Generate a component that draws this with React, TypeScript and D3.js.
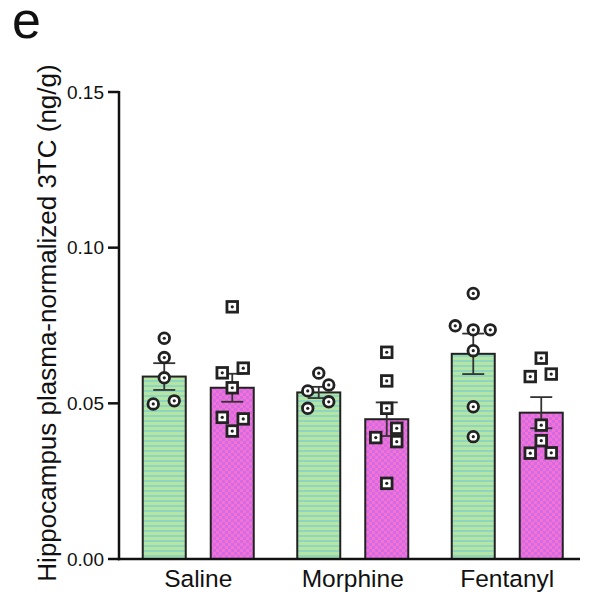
import React from "react";
import * as d3 from "d3";

const categories = ["Saline", "Morphine", "Fentanyl"];
const series = ["A", "B"];
const means = [
  [0.0586, 0.055],
  [0.0535, 0.0449],
  [0.0659, 0.047],
];
const sems = [
  [0.0043, 0.0045],
  [0.0018, 0.0054],
  [0.0065, 0.005],
];
// points: [value, jitter (-1..1)]
const pointsA: [number, number][][] = [
  [[0.0709, 0], [0.0647, 0], [0.0582, 0], [0.0498, -1.1], [0.0508, 1]],
  [[0.0597, 0], [0.0559, 1], [0.054, -1.1], [0.0505, 1], [0.0484, -1.1]],
  [[0.0853, 0], [0.0749, -1.8], [0.0736, 0], [0.0736, 1.7], [0.0669, 0], [0.0489, 0], [0.0393, 0]],
];
const pointsB: [number, number][][] = [
  [[0.081, 0], [0.0598, -1], [0.0613, 1.1], [0.055, 0], [0.0455, -1], [0.045, 1.1], [0.0411, 0]],
  [[0.0664, 0], [0.0572, 0], [0.0484, 0], [0.042, 1], [0.039, -1.1], [0.0377, 1], [0.0243, 0]],
  [[0.0645, 0], [0.0586, -1.1], [0.0594, 1], [0.043, 0], [0.038, 0], [0.034, -1.1], [0.0341, 1]],
];
const yTicks = [0, 0.05, 0.1, 0.15];
const yLabel = "Hippocampus plasma-normalized 3TC (ng/g)";
const panelLabel = "e";

const W = 589;
const H = 597;
const FONT = "'Liberation Sans', Arial, Helvetica, sans-serif";
const DARK = "#222";

export default function App() {
  const y = d3.scaleLinear().domain([0, 0.15]).range([559, 92]);
  const xg = d3.scaleBand<string>().domain(categories).range([121, 584.5]);
  const xs = d3.scalePoint<string>().domain(series).range([-34, 34]);
  const barW = 43;
  const jit = 10;

  return (
    <svg
      width={W}
      height={H}
      style={{ position: "absolute", left: 0, top: 0, background: "#fff" }}
      fontFamily={FONT}
    >
      <defs>
        <pattern id="stripes" patternUnits="userSpaceOnUse" width={6} height={5}>
          <rect width={6} height={5} fill="#b6e5a2" />
          <rect y={0} width={6} height={2} fill="#8ed6c4" />
        </pattern>
        <pattern id="checks" patternUnits="userSpaceOnUse" width={6} height={6}>
          <rect width={6} height={6} fill="#f571d2" />
          <rect x={0} y={0} width={3} height={3} fill="#d26be6" />
          <rect x={3} y={3} width={3} height={3} fill="#d26be6" />
        </pattern>
      </defs>

      <text x={12} y={38} fontSize={52} fill="#111">{panelLabel}</text>

      {/* bars */}
      {categories.map((c, ci) => {
        const cx0 = (xg(c) as number) + xg.bandwidth() / 2;
        return series.map((s, si) => {
          const cx = cx0 + (xs(s) as number);
          const m = means[ci][si];
          const e = sems[ci][si];
          const pts = si === 0 ? pointsA[ci] : pointsB[ci];
          return (
            <g key={c + s}>
              <rect
                x={cx - barW / 2}
                y={y(m)}
                width={barW}
                height={y(0) - y(m)}
                fill={si === 0 ? "url(#stripes)" : "url(#checks)"}
                stroke={DARK}
                strokeWidth={2}
              />
              <g stroke="#333" strokeWidth={1.8}>
                <line x1={cx} x2={cx} y1={y(m + e)} y2={y(m - e)} />
                <line x1={cx - 11} x2={cx + 11} y1={y(m + e)} y2={y(m + e)} />
                <line x1={cx - 11} x2={cx + 11} y1={y(m - e)} y2={y(m - e)} />
              </g>
              {pts.map(([v, j], pi) => {
                const px = cx + j * jit;
                const py = y(v);
                return (
                  <g key={pi}>
                    {si === 0 ? (
                      <circle cx={px} cy={py} r={5.3} fill="#fff" stroke={DARK} strokeWidth={2.8} />
                    ) : (
                      <rect x={px - 5.3} y={py - 5.3} width={10.6} height={10.6} fill="#fff" stroke={DARK} strokeWidth={2.8} />
                    )}
                    <circle cx={px} cy={py} r={1.6} fill={DARK} />
                  </g>
                );
              })}
            </g>
          );
        });
      })}

      {/* axes */}
      <line x1={119} x2={119} y1={y(0.15) - 1} y2={y(0) + 1.2} stroke="#111" strokeWidth={2.5} />
      <line x1={118} x2={580} y1={y(0)} y2={y(0)} stroke="#111" strokeWidth={2.5} />
      {yTicks.map((t) => (
        <g key={t}>
          <line x1={108} x2={119} y1={y(t)} y2={y(t)} stroke="#111" strokeWidth={2.5} />
          <text x={104} y={y(t)} dy="0.35em" textAnchor="end" fontSize={19} fill="#111">
            {t.toFixed(2)}
          </text>
        </g>
      ))}
      {categories.map((c) => (
        <text
          key={c}
          x={(xg(c) as number) + xg.bandwidth() / 2}
          y={587}
          textAnchor="middle"
          fontSize={24.5}
          fill="#111"
        >
          {c}
        </text>
      ))}
      <text
        transform={`translate(56,323) rotate(-90)`}
        textAnchor="middle"
        fontSize={26}
        fill="#111"
      >
        {yLabel}
      </text>
    </svg>
  );
}
